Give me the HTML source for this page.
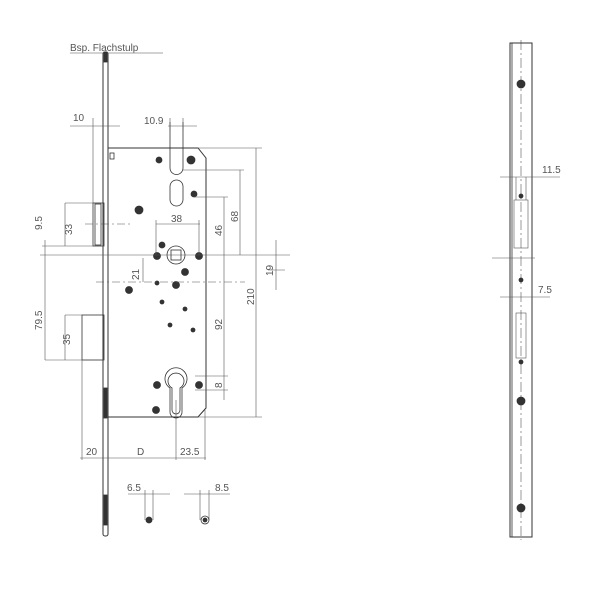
<!DOCTYPE html>
<html><head><style>body{margin:0;background:#fff}svg{display:block}text{font-family:"Liberation Sans",sans-serif;font-size:10px;fill:#555}</style></head><body>
<svg width="600" height="600" viewBox="0 0 600 600" stroke="#333" fill="none" stroke-width="0.8">
<text x="70" y="51" stroke="none">Bsp. Flachstulp</text>
<line x1="70" y1="53" x2="163" y2="53" stroke="#888"/>
<!-- faceplate -->
<rect x="103" y="52" width="5" height="484" rx="2" stroke-width="1"/>
<rect x="104" y="52" width="3" height="10" fill="#333"/>
<rect x="104" y="388" width="3" height="30" fill="#333"/>
<rect x="104" y="495" width="3" height="30" fill="#333"/>
<!-- body -->
<path d="M108 148 H198 L206 158 V408 L198 417 H108" stroke-width="1"/>
<rect x="110" y="153" width="4" height="6"/>
<!-- latch -->
<rect x="93" y="203" width="11" height="43"/>
<rect x="95" y="204" width="6" height="41"/>
<!-- deadbolt -->
<rect x="82" y="315" width="22" height="45"/>
<!-- slots -->
<path d="M170 122 V168 A6.5 6.5 0 0 0 183 168 V122"/>
<rect x="170" y="180" width="13" height="26" rx="6.5"/>
<!-- hub -->
<circle cx="176" cy="255" r="9"/><rect x="171" y="250" width="10" height="10"/>
<!-- cylinder -->
<path d="M170 395 V388 A11 11 0 1 1 182 388 V395 V412 A6 6 0 0 1 170 412 Z"/>
<path d="M172 388 A8 8 0 1 1 180 388 V410 A4 4 0 0 1 172 410Z"/>
<!-- screws -->
<g fill="#333">
<circle cx="159" cy="160" r="3"/><circle cx="191" cy="160" r="4"/><circle cx="194" cy="194" r="3"/>
<circle cx="139" cy="210" r="4"/><circle cx="162" cy="245" r="3"/><circle cx="157" cy="256" r="3.5"/>
<circle cx="199" cy="256" r="3.5"/><circle cx="185" cy="272" r="3.5"/><circle cx="176" cy="285" r="3.5"/>
<circle cx="129" cy="290" r="3.5"/><circle cx="162" cy="302" r="2"/><circle cx="185" cy="309" r="2"/>
<circle cx="170" cy="325" r="2"/><circle cx="193" cy="330" r="2"/><circle cx="157" cy="385" r="3.5"/>
<circle cx="199" cy="385" r="3.5"/><circle cx="156" cy="410" r="3.5"/><circle cx="157" cy="283" r="2"/>
</g>
<!-- dimension lines -->
<g stroke="#555" stroke-width="0.6">
<line x1="40" y1="255" x2="290" y2="255"/>
<line x1="96" y1="282" x2="245" y2="282" stroke-dasharray="8 3 2 3"/>
<line x1="85" y1="224" x2="130" y2="224" stroke-dasharray="8 3 2 3"/>
<line x1="42" y1="246" x2="104" y2="246"/>
<line x1="45" y1="360" x2="104" y2="360"/>
<line x1="45" y1="240" x2="45" y2="360"/><line x1="65" y1="203" x2="65" y2="246"/><line x1="65" y1="315" x2="65" y2="360"/>
<line x1="65" y1="203" x2="93" y2="203"/><line x1="65" y1="315" x2="82" y2="315"/>
<line x1="93" y1="118" x2="93" y2="203"/><line x1="70" y1="126" x2="120" y2="126"/>
<line x1="168" y1="126" x2="197" y2="126"/><line x1="170" y1="118" x2="170" y2="130"/><line x1="183" y1="118" x2="183" y2="130"/>
<line x1="198" y1="148" x2="262" y2="148"/><line x1="198" y1="417" x2="262" y2="417"/><line x1="256" y1="148" x2="256" y2="417"/>
<line x1="183" y1="170" x2="244" y2="170"/><line x1="240" y1="170" x2="240" y2="255"/>
<line x1="194" y1="197" x2="228" y2="197"/><line x1="224" y1="197" x2="224" y2="400"/>
<line x1="195" y1="376" x2="228" y2="376"/><line x1="195" y1="390" x2="228" y2="390"/>
<line x1="156" y1="224" x2="200" y2="224"/><line x1="156" y1="220" x2="156" y2="255"/><line x1="199" y1="220" x2="199" y2="255"/>
<line x1="143" y1="258" x2="143" y2="282"/>
<line x1="276" y1="240" x2="276" y2="290"/><line x1="268" y1="270" x2="285" y2="270"/>
<line x1="82" y1="360" x2="82" y2="460"/><line x1="176" y1="400" x2="176" y2="460"/><line x1="205" y1="410" x2="205" y2="460"/>
<line x1="80" y1="458" x2="206" y2="458"/>
<line x1="128" y1="494" x2="170" y2="494"/><line x1="145" y1="490" x2="145" y2="520"/><line x1="153" y1="490" x2="153" y2="520"/>
<line x1="184" y1="494" x2="230" y2="494"/><line x1="200" y1="490" x2="200" y2="520"/><line x1="209" y1="490" x2="209" y2="520"/>
</g>
<circle cx="149" cy="520" r="3" fill="#333"/><circle cx="205" cy="520" r="4"/><circle cx="205" cy="520" r="2" fill="#333"/>
<g stroke="none">
<text x="73" y="121">10</text><text x="144" y="124">10.9</text>
<text x="171" y="222">38</text>
<text transform="translate(42 230) rotate(-90)">9.5</text>
<text transform="translate(72 235) rotate(-90)">33</text>
<text transform="translate(42 330) rotate(-90)">79.5</text>
<text transform="translate(70 345) rotate(-90)">35</text>
<text transform="translate(139 280) rotate(-90)">21</text>
<text transform="translate(222 236) rotate(-90)">46</text>
<text transform="translate(238 222) rotate(-90)">68</text>
<text transform="translate(254 305) rotate(-90)">210</text>
<text transform="translate(222 330) rotate(-90)">92</text>
<text transform="translate(222 388) rotate(-90)">8</text>
<text transform="translate(273 276) rotate(-90)">19</text>
<text x="86" y="455">20</text><text x="137" y="455">D</text><text x="180" y="455">23.5</text>
<text x="127" y="491">6.5</text><text x="215" y="491">8.5</text>
</g>
<!-- strike plate -->
<rect x="510" y="43" width="22" height="494" stroke-width="1"/>
<line x1="512" y1="43" x2="512" y2="537"/>
<line x1="521" y1="40" x2="521" y2="540" stroke-dasharray="10 3 2 3" stroke-width="0.5"/>
<g stroke="#555" stroke-width="0.6">
<line x1="500" y1="177" x2="560" y2="177"/><line x1="500" y1="297" x2="550" y2="297"/>
<line x1="492" y1="258" x2="535" y2="258"/>
<rect x="514" y="200" width="14" height="48"/>
<rect x="516" y="313" width="10" height="45"/>
<line x1="516" y1="177" x2="516" y2="200"/><line x1="526" y1="177" x2="526" y2="200"/>
</g>
<g fill="#333"><circle cx="521" cy="84" r="4"/><circle cx="521" cy="401" r="4"/><circle cx="521" cy="508" r="4"/>
<circle cx="521" cy="196" r="2"/><circle cx="521" cy="280" r="2"/><circle cx="521" cy="362" r="2"/></g>
<text x="542" y="173" stroke="none">11.5</text><text x="538" y="293" stroke="none">7.5</text>
</svg>
</body></html>
